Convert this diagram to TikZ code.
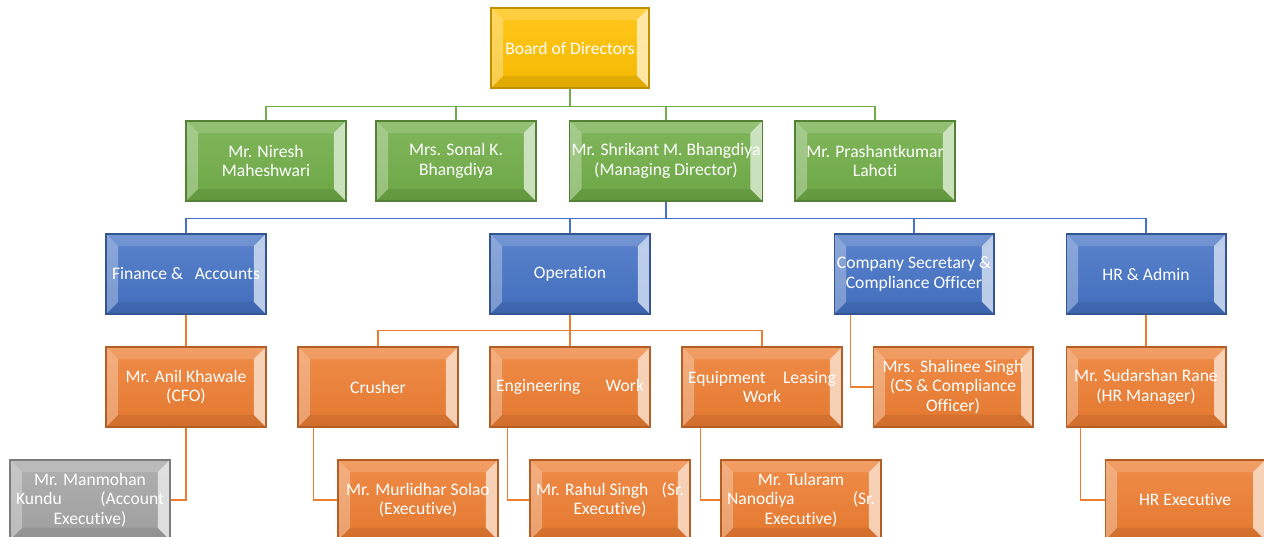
\documentclass[tikz,border=0pt]{standalone}
\usepackage{fontspec}
\setmainfont{Carlito}[Ligatures=CommonOff]
\usepackage{tikz}
\usepackage{xcolor}
\definecolor{bodgold}{HTML}{FFC000}
\definecolor{dirgreen}{HTML}{70AD47}
\definecolor{deptblue}{HTML}{4472C4}
\definecolor{stafforange}{HTML}{ED7D31}
\definecolor{staffgray}{HTML}{A5A5A5}
\newcommand{\jline}[1]{\makebox[2.96cm][s]{#1}}

\begin{document}
\begin{tikzpicture}[x=0.02cm,y=-0.02cm,
    box/.style={draw=#1!75!black, line width=0.6pt, top color=#1!88!white, bottom color=#1!96!black,
        minimum width=3.2cm, minimum height=1.6cm, inner sep=0pt, align=center, text=white,
        font=\fontsize{10}{11}\selectfont,
        path picture={
            \coordinate (nw) at (path picture bounding box.north west);
            \coordinate (ne) at (path picture bounding box.north east);
            \coordinate (sw) at (path picture bounding box.south west);
            \coordinate (se) at (path picture bounding box.south east);
            \fill[white,opacity=0.15] (nw) -- (ne) -- ([shift={(-0.24cm,-0.24cm)}]ne) -- ([shift={(0.24cm,-0.24cm)}]nw) -- cycle;
            \fill[white,opacity=0.3] (nw) -- ([shift={(0.24cm,-0.24cm)}]nw) -- ([shift={(0.24cm,0.24cm)}]sw) -- (sw) -- cycle;
            \fill[#1!25!white,opacity=0.85] (ne) -- (se) -- ([shift={(-0.24cm,0.24cm)}]se) -- ([shift={(-0.24cm,-0.24cm)}]ne) -- cycle;
            \fill[black,opacity=0.08] (sw) -- ([shift={(0.24cm,0.24cm)}]sw) -- ([shift={(-0.24cm,0.24cm)}]se) -- (se) -- cycle;
        }},
    gline/.style={draw=dirgreen, line width=1.1pt},
    bline/.style={draw=deptblue, line width=1.1pt},
    oline/.style={draw=stafforange, line width=1.1pt}]
    \useasboundingbox (0,0) rectangle (1264,537);
    \clip (0,0) rectangle (1264,537);
    \node[box=bodgold, minimum width=3.16cm] (bod) at (570,48) {Board of Directors};
    \node[box=dirgreen] (niresh) at (266,161) {Mr. Niresh\\Maheshwari};
    \node[box=dirgreen] (sonal) at (456,161) {Mrs. Sonal K.\\Bhangdiya};
    \node[box=dirgreen, minimum width=3.86cm] (shrikant) at (666,161) {Mr. Shrikant M. Bhangdiya\\(Managing Director)};
    \node[box=dirgreen] (prashant) at (875,161) {Mr. Prashantkumar\\Lahoti};
    \node[box=deptblue] (finance) at (186,274) {\jline{Finance \&\hfill Accounts}};
    \node[box=deptblue] (operation) at (570,274) {Operation};
    \node[box=deptblue] (compsec) at (914,274) {Company Secretary \&\\Compliance Officer};
    \node[box=deptblue] (hradmin) at (1146,274) {HR \& Admin};
    \node[box=stafforange] (anil) at (186,387) {Mr. Anil Khawale\\(CFO)};
    \node[box=stafforange] (crusher) at (378,387) {Crusher};
    \node[box=stafforange] (engg) at (570,387) {\jline{Engineering Work}};
    \node[box=stafforange] (equip) at (762,387) {\jline{Equipment Leasing}\\Work};
    \node[box=stafforange] (shalinee) at (953,387) {Mrs. Shalinee Singh\\(CS \& Compliance\\Officer)};
    \node[box=stafforange] (sudarshan) at (1146,387) {Mr. Sudarshan Rane\\(HR Manager)};
    \node[box=staffgray] (manmohan) at (90,500) {Mr. Manmohan\\\jline{Kundu (Account}\\Executive)};
    \node[box=stafforange] (murlidhar) at (418,500) {Mr. Murlidhar Solao\\(Executive)};
    \node[box=stafforange] (rahul) at (610,500) {\jline{Mr. Rahul Singh\hfill(Sr.}\\Executive)};
    \node[box=stafforange] (tularam) at (801,500) {Mr. Tularam\\\jline{Nanodiya (Sr.}\\Executive)};
    \node[box=stafforange] (hrexec) at (1185,500) {HR Executive};
    \draw[gline] (bod.south) -- ++(0,18) -| (niresh.north);
    \draw[gline] (bod.south) -- ++(0,18) -| (sonal.north);
    \draw[gline] (bod.south) -- ++(0,18) -| (shrikant.north);
    \draw[gline] (bod.south) -- ++(0,18) -| (prashant.north);
    \draw[bline] (shrikant.south) -- ++(0,17) -| (finance.north);
    \draw[bline] (shrikant.south) -- ++(0,17) -| (operation.north);
    \draw[bline] (shrikant.south) -- ++(0,17) -| (compsec.north);
    \draw[bline] (shrikant.south) -- ++(0,17) -| (hradmin.north);
    \draw[oline] (operation.south) -- ++(0,16) -| (crusher.north);
    \draw[oline] (operation.south) -- ++(0,16) -| (engg.north);
    \draw[oline] (operation.south) -- ++(0,16) -| (equip.north);
    \draw[oline] (finance.south) -- (anil.north);
    \draw[oline] (hradmin.south) -- (sudarshan.north);
    \draw[oline] ([xshift=0.34cm]compsec.south west) |- (shalinee.west);
    \draw[oline] (anil.south) |- (manmohan.east);
    \draw[oline] ([xshift=0.32cm]crusher.south west) |- (murlidhar.west);
    \draw[oline] ([xshift=0.36cm]engg.south west) |- (rahul.west);
    \draw[oline] ([xshift=0.38cm]equip.south west) |- (tularam.west);
    \draw[oline] ([xshift=0.3cm]sudarshan.south west) |- (hrexec.west);
\end{tikzpicture}
\end{document}
